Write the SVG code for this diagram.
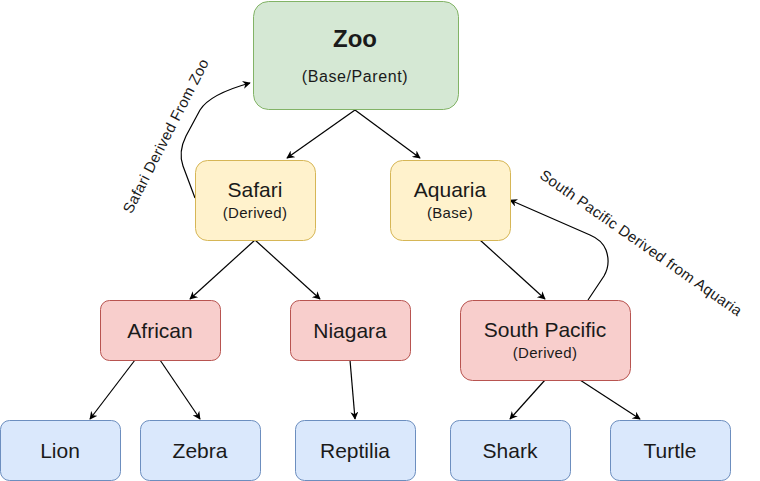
<svg xmlns="http://www.w3.org/2000/svg" width="760" height="481" viewBox="0 0 760 481">
<defs>
<marker id="arr" viewBox="0 0 10 10" refX="9" refY="5" markerWidth="8" markerHeight="8" markerUnits="userSpaceOnUse" orient="auto">
<path d="M0,0 L10,5 L0,10 L3,5 Z" fill="#000"/>
</marker>
<style>
text{font-family:"Liberation Sans",Arial,sans-serif;fill:#1a1a1a;text-anchor:middle}
.g{fill:#d5e8d4;stroke:#82b366}
.y{fill:#fff2cc;stroke:#d6b656}
.r{fill:#f8cecc;stroke:#b85450}
.b{fill:#dae8fc;stroke:#6c8ebf}
.t{font-size:21px}
.s{font-size:15px;letter-spacing:0.3px}
.c{fill:none;stroke:#000;stroke-width:1.2;marker-end:url(#arr)}
.lbl{font-size:15px;letter-spacing:0.3px}
</style>
</defs>
<rect width="760" height="481" fill="#fff"/>
<g id="connectors">
<path class="c" d="M355,110 L287,158"/>
<path class="c" d="M355,110 L420,158"/>
<path class="c" d="M255,240 L190,299"/>
<path class="c" d="M255,240 L320,299"/>
<path class="c" d="M480,240 L545,299"/>
<path class="c" d="M135,360 L90,419"/>
<path class="c" d="M160,360 L200,419"/>
<path class="c" d="M350,360 L355,419"/>
<path class="c" d="M545,380 L510,419"/>
<path class="c" d="M580,380 L640,419"/>
<path class="c" d="M195,198 L183,166 Q178,152 186,136 L200,110 Q210,94 250,83"/>
<path class="c" d="M588,300 L604,276 Q611,264 606,250 Q602,240 590,235 L510,200"/>
<text class="lbl" transform="translate(166,136) rotate(-63)" y="5">Safari Derived From Zoo</text>
<text class="lbl" transform="translate(641,243) rotate(35)" y="5">South Pacific Derived from Aquaria</text>
</g>
<g id="zoo"><rect class="g" x="253.5" y="1.5" width="205" height="108" rx="15"/><text x="355" y="47" style="font-size:24px;font-weight:bold">Zoo</text><text x="355" y="82" style="font-size:16px;letter-spacing:0.6px">(Base/Parent)</text></g>
<g id="safari"><rect class="y" x="195.5" y="160.5" width="120" height="80" rx="12"/><text class="t" x="255" y="197">Safari</text><text class="s" x="255" y="218">(Derived)</text></g>
<g id="aquaria"><rect class="y" x="390.5" y="160.5" width="120" height="80" rx="12"/><text class="t" x="450" y="197">Aquaria</text><text class="s" x="450" y="218">(Base)</text></g>
<g id="african"><rect class="r" x="100.5" y="300.5" width="120" height="60" rx="9"/><text class="t" x="160" y="338">African</text></g>
<g id="niagara"><rect class="r" x="290.5" y="300.5" width="120" height="60" rx="9"/><text class="t" x="350" y="338">Niagara</text></g>
<g id="southpacific"><rect class="r" x="460.5" y="300.5" width="170" height="80" rx="12"/><text class="t" x="545" y="337">South Pacific</text><text class="s" x="545" y="358">(Derived)</text></g>
<g id="lion"><rect class="b" x="0.5" y="420.5" width="120" height="60" rx="9"/><text class="t" x="60" y="458">Lion</text></g>
<g id="zebra"><rect class="b" x="140.5" y="420.5" width="120" height="60" rx="9"/><text class="t" x="200" y="458">Zebra</text></g>
<g id="reptilia"><rect class="b" x="295.5" y="420.5" width="120" height="60" rx="9"/><text class="t" x="355" y="458">Reptilia</text></g>
<g id="shark"><rect class="b" x="450.5" y="420.5" width="120" height="60" rx="9"/><text class="t" x="510" y="458">Shark</text></g>
<g id="turtle"><rect class="b" x="610.5" y="420.5" width="120" height="60" rx="9"/><text class="t" x="670" y="458">Turtle</text></g>
</svg>
